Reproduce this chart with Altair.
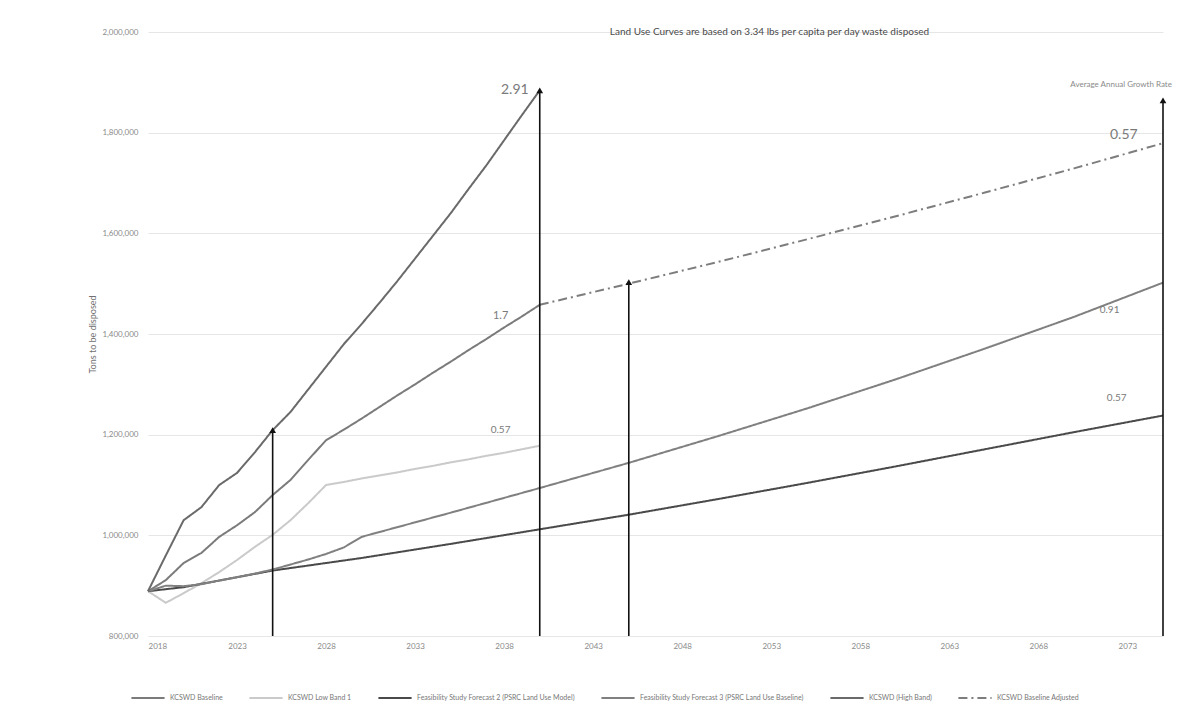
import altair as alt
import pandas as pd

# ---- data (values in tons) ----
years_main = list(range(2018, 2041))
baseline = [889000, 911000, 945000, 965000, 997000, 1020000, 1046000, 1080000, 1110000, 1150000,
            1189000, 1210000, 1232000, 1255000, 1278000, 1300000, 1323000, 1345000, 1368000,
            1390000, 1413000, 1435000, 1458000]
low_band = [889000, 866000, 885000, 905000, 927000, 951000, 977000, 1001000, 1030000, 1064000,
            1100000, 1106000, 1113000, 1119000, 1125000, 1132000, 1138000, 1145000, 1151000,
            1158000, 1164000, 1171000, 1178000]
high_band = [889000, 960000, 1030000, 1056000, 1100000, 1124000, 1165000, 1209000, 1245000,
             1290000, 1335000, 1380000, 1420000, 1462000, 1505000, 1550000, 1595000, 1640000,
             1688000, 1735000, 1785000, 1835000, 1884000]
f2_years = [2018, 2019, 2020, 2025, 2030, 2035, 2040, 2045, 2050, 2055, 2060, 2065, 2070, 2075]
f2_vals = [889000, 893000, 897000, 930000, 955000, 983000, 1012000, 1041000, 1072000, 1104000,
           1137000, 1171000, 1205000, 1238000]
f3_years = [2018, 2019, 2020, 2021, 2022, 2023, 2024, 2025, 2026, 2027, 2028, 2029, 2030,
            2035, 2040, 2045, 2050, 2055, 2060, 2065, 2070, 2075]
f3_vals = [889000, 900000, 899000, 903000, 910000, 917000, 924000, 932000, 942000, 952000,
           963000, 976000, 997000, 1045000, 1094000, 1144000, 1197000, 1252000, 1310000,
           1371000, 1434000, 1502000]
adj_years = [2040, 2045, 2050, 2055, 2060, 2065, 2070, 2075]
adj_vals = [1458000, 1500000, 1543000, 1588000, 1634000, 1681000, 1729000, 1779000]

series_names = ["KCSWD Baseline", "KCSWD Low Band 1",
                "Feasibility Study Forecast 2 (PSRC Land Use Model)",
                "Feasibility Study Forecast 3 (PSRC Land Use Baseline)",
                "KCSWD (High Band)", "KCSWD Baseline Adjusted"]
series_colors = ["#7b7b7b", "#cacaca", "#4a4a4a", "#808080", "#6a6a6a", "#7d7d7d"]
series_dash = [[1, 0], [1, 0], [1, 0], [1, 0], [1, 0], [9, 4, 2, 4]]

arrow_years = [2025, 2040, 2045, 2075]
arrow_tops = [1209000, 1884000, 1503000, 1864000]

label_texts = ["2.91", "1.7", "0.57", "0.91", "0.57", "0.57"]
label_years = [2038.6, 2037.8, 2037.8, 2072.0, 2072.4, 2072.8]
label_vals = [1884000, 1436000, 1209000, 1447000, 1273000, 1795000]
label_sizes = [14, 11, 10, 10, 10, 14]

xticks = [2018, 2023, 2028, 2033, 2038, 2043, 2048, 2053, 2058, 2063, 2068, 2073]
yticks = [800000, 1000000, 1200000, 1400000, 1600000, 1800000, 2000000]

# ---- build tables ----
rows = []
def add(name, ys, vs):
    for y, v in zip(ys, vs):
        rows.append({"series": name, "year": y, "tons": v})
add(series_names[0], years_main, baseline)
add(series_names[1], years_main, low_band)
add(series_names[2], f2_years, f2_vals)
add(series_names[3], f3_years, f3_vals)
add(series_names[4], years_main, high_band)
add(series_names[5], adj_years, adj_vals)
df = pd.DataFrame(rows)

arrows = pd.DataFrame({"year": arrow_years, "tons": arrow_tops, "bottom": [800000] * 4})
labels = pd.DataFrame({"year": label_years, "tons": label_vals, "text": label_texts,
                       "size": label_sizes})

FONT = "Lato"
xscale = alt.Scale(domain=[2018, 2075], nice=False, zero=False)
yscale = alt.Scale(domain=[800000, 2000000], nice=False, zero=False)

x_axis = alt.Axis(values=xticks, format="d", title=None, grid=False, domain=False,
                  ticks=False, labelFontSize=8, labelColor="#8a8a8a", labelPadding=6,
                  labelFont=FONT)
y_axis = alt.Axis(values=yticks, format=",d", title="Tons to be disposed", grid=True,
                  gridColor="#e6e6e6", gridWidth=1, domain=False, ticks=False,
                  labelFontSize=8, labelColor="#8a8a8a", labelPadding=10,
                  titleFontSize=9, titleFontWeight="normal", titleColor="#707070",
                  titlePadding=4, labelFont=FONT, titleFont=FONT)

def X():
    return alt.X("year:Q", scale=xscale, axis=x_axis)

def Y(field="tons:Q"):
    return alt.Y(field, scale=yscale, axis=y_axis)

lines = alt.Chart(df).mark_line(strokeWidth=2).encode(
    x=X(), y=Y(),
    color=alt.Color("series:N", scale=alt.Scale(domain=series_names, range=series_colors),
                    sort=series_names,
                    legend=alt.Legend(title=None, orient="none", direction="horizontal",
                                      legendX=-18, legendY=648, symbolType="stroke",
                                      symbolStrokeWidth=2, symbolSize=1100,
                                      labelFontSize=7, labelColor="#777777", labelFont=FONT,
                                      columnPadding=22, labelLimit=400)),
    strokeDash=alt.StrokeDash("series:N", scale=alt.Scale(domain=series_names,
                                                          range=series_dash),
                              sort=series_names, legend=None),
    detail="series:N",
)

rules = alt.Chart(arrows).mark_rule(color="#111111", strokeWidth=1.6).encode(
    x=X(), y=Y("bottom:Q"), y2="tons:Q")
heads = alt.Chart(arrows).mark_point(shape="triangle-up", filled=True, color="#111111",
                                     size=45, opacity=1).encode(x=X(), y=Y())

texts = alt.Chart(labels).mark_text(color="#7a7a7a", font=FONT, align="center",
                                    baseline="middle").encode(
    x=X(), y=Y(), text="text:N",
    size=alt.Size("size:Q", scale=None, legend=None))

title_df = pd.DataFrame({"year": [2052.9], "tons": [2000000],
                         "text": ["Land Use Curves are based on 3.34 lbs per capita per day waste disposed"]})
title = alt.Chart(title_df).mark_text(color="#4a4a4a", font=FONT, fontSize=10,
                                      align="center", baseline="middle").encode(
    x=X(), y=Y(), text="text:N")

agr_df = pd.DataFrame({"year": [2075.5], "tons": [1894000], "text": ["Average Annual Growth Rate"]})
agr = alt.Chart(agr_df).mark_text(color="#8a8a8a", font=FONT, fontSize=8,
                                  align="right", baseline="middle").encode(
    x=X(), y=Y(), text="text:N")

chart = alt.layer(lines, rules, heads, texts, title, agr).properties(
    width=1015, height=604,
    background="white",
    autosize=alt.AutoSizeParams(type="none"),
    padding={"left": 140, "top": 24, "right": 12, "bottom": 80},
).configure_view(stroke=None).configure_axisX(grid=False)

chart.save("out.html", embed_options={"renderer": "svg", "actions": False})
